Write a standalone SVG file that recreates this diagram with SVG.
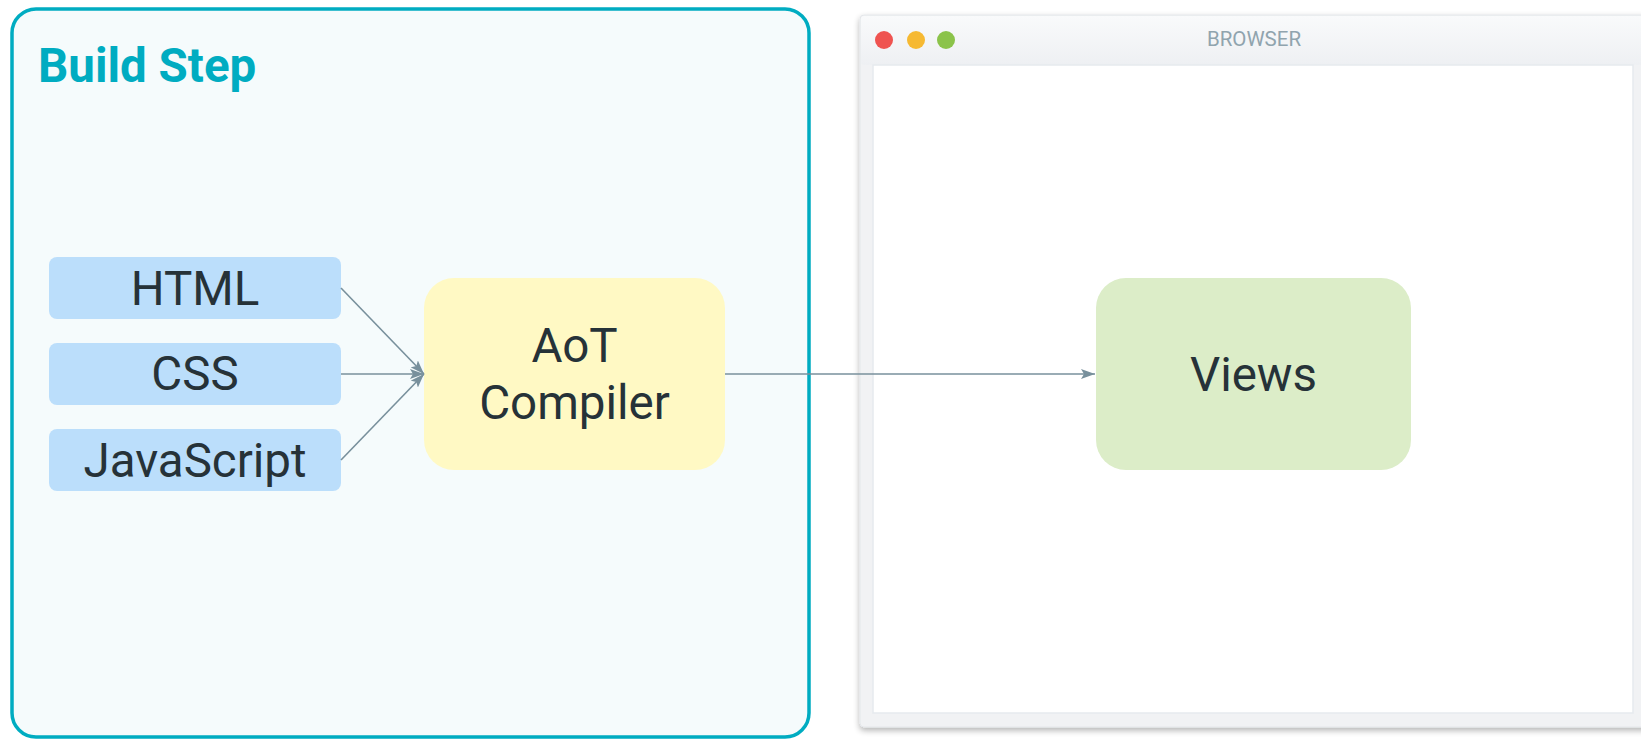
<svg xmlns="http://www.w3.org/2000/svg" width="1641" height="740" viewBox="0 0 1641 740">
<style>
.lbl{font-family:Roboto,"Liberation Sans",sans-serif;font-size:47.5px;fill:#263238;text-anchor:middle}
.in{fill:#bbdefb}
.conn{stroke:#78909c;stroke-width:1.6;fill:none}
</style>
<defs>
<marker id="ah" viewBox="0 0 14 10" refX="14" refY="5" markerWidth="14" markerHeight="10" markerUnits="userSpaceOnUse" orient="auto">
<path d="M0,0 L14,5 L0,10 L3,5 Z" fill="#78909c"/>
</marker>
<linearGradient id="tb" x1="0" y1="0" x2="0" y2="1">
<stop offset="0" stop-color="#f9fafb"/>
<stop offset="1" stop-color="#eef0f3"/>
</linearGradient>
<filter id="sh" x="-5%" y="-5%" width="110%" height="115%">
<feGaussianBlur in="SourceAlpha" stdDeviation="3"/>
<feOffset dy="3"/>
<feComponentTransfer><feFuncA type="linear" slope="0.3"/></feComponentTransfer>
<feMerge><feMergeNode/><feMergeNode in="SourceGraphic"/></feMerge>
</filter>
</defs>
<rect width="1641" height="740" fill="#ffffff"/>
<g id="build-step">
<rect x="12" y="9" width="797" height="728" rx="24" fill="#f5fbfc" stroke="#00acc1" stroke-width="3.5"/>
<text x="38" y="82" font-family="Roboto,'Liberation Sans',sans-serif" font-size="47.5" font-weight="bold" fill="#00acc1">Build Step</text>
</g>
<g id="browser">
<rect x="860" y="15" width="800" height="712" rx="4" fill="#f1f2f4" stroke="#e4e7ea" stroke-width="1" filter="url(#sh)"/>
<rect x="861" y="16" width="798" height="49" rx="3" fill="url(#tb)"/>
<rect x="873" y="65" width="760" height="648" fill="#ffffff" stroke="#e6eaee" stroke-width="1.5"/>
<circle cx="884" cy="40" r="9" fill="#ef5350"/>
<circle cx="916" cy="40" r="9" fill="#f6b932"/>
<circle cx="946" cy="40" r="9" fill="#8bc34a"/>
<text x="1254" y="46" font-family="Roboto,'Liberation Sans',sans-serif" font-size="20.5" fill="#90a4ae" text-anchor="middle">BROWSER</text>
</g>
<g id="html">
<rect class="in" x="49" y="257" width="292" height="62" rx="8"/>
<text class="lbl" x="195" y="305">HTML</text>
</g>
<g id="css">
<rect class="in" x="49" y="343" width="292" height="62" rx="8"/>
<text class="lbl" x="195" y="390">CSS</text>
</g>
<g id="javascript">
<rect class="in" x="49" y="429" width="292" height="62" rx="8"/>
<text class="lbl" x="195" y="477">JavaScript</text>
</g>
<g id="aot-compiler">
<rect x="424" y="278" width="301" height="192" rx="30" fill="#fff9c4"/>
<text class="lbl" x="574.5" y="362">AoT</text>
<text class="lbl" x="574.5" y="419">Compiler</text>
</g>
<g id="views">
<rect x="1096" y="278" width="315" height="192" rx="30" fill="#dcedc8"/>
<text class="lbl" x="1253.5" y="391">Views</text>
</g>
<g id="connectors">
<line class="conn" x1="341" y1="288" x2="424" y2="374" marker-end="url(#ah)"/>
<line class="conn" x1="341" y1="374" x2="424" y2="374" marker-end="url(#ah)"/>
<line class="conn" x1="341" y1="460" x2="424" y2="374" marker-end="url(#ah)"/>
<line class="conn" x1="725" y1="374" x2="1095" y2="374" marker-end="url(#ah)"/>
</g>
</svg>
